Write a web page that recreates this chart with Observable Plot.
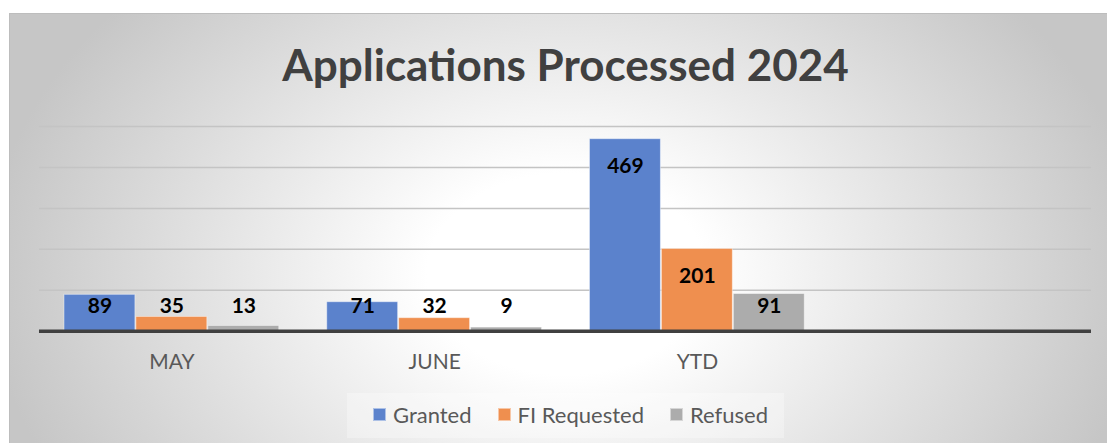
<!DOCTYPE html>
<html>
<head>
<meta charset="utf-8">
<script src="https://cdn.jsdelivr.net/npm/d3@7"></script>
<script src="https://cdn.jsdelivr.net/npm/@observablehq/plot@0.6"></script>
<style>
  html, body { margin: 0; padding: 0; background: #ffffff; width: 1107px; height: 443px; overflow: hidden; }
  #box {
    position: absolute; left: 9px; top: 13px; width: 1098px; height: 430px;
    border-top: 1px solid #bdbdbd; border-left: 1px solid #bdbdbd; box-sizing: border-box;
    background: radial-gradient(ellipse 580px 420px at 556px 260px, #ffffff 0%, #ffffff 24%, #c6c6c6 100%);
    font-family: Lato, "Open Sans", sans-serif;
  }
  #title {
    position: absolute; left: 0; top: 24px; width: 1111px; text-align: center;
    font-size: 44px; font-weight: 700; color: #404040; white-space: nowrap;
  }
  .layer { position: absolute; left: -9px; top: 87px; }
  .layer svg { display: block; }
  #legendbox {
    position: absolute; left: 337px; top: 379px; width: 437px; height: 45px;
    background: rgba(255,255,255,0.3);
  }
  #legend {
    position: absolute; left: 363px; top: 387px; display: flex; align-items: center;
    font-size: 22px; color: #595959; white-space: nowrap;
  }
  .item { display: flex; align-items: center; margin-right: 26px; }
  .sw { width: 13px; height: 13px; margin-right: 7px; box-sizing: border-box; border: 1px solid rgba(255,255,255,0.5); }
</style>
</head>
<body>
<div id="box">
  <div id="title">Applications Processed 2024</div>
  <div id="grid" class="layer"></div>
  <div id="chart" class="layer"></div>
  <div id="base" class="layer"></div>
  <div id="legendbox"></div>
  <div id="legend"></div>
</div>
<script>
const categories = ["MAY", "JUNE", "YTD", " "];
const series = ["Granted", "FI Requested", "Refused"];
const granted = [89, 71, 469, null];
const fiRequested = [35, 32, 201, null];
const refused = [13, 9, 91, null];
const colors = ["#5b82cc", "#ef8f4f", "#acacac"];
const gridTicks = [100, 200, 300, 400, 500];
const title = "Applications Processed 2024";

const seriesValues = [granted, fiRequested, refused];
const data = [];
categories.forEach((c, i) => {
  series.forEach((s, j) => {
    data.push({category: c, series: s, value: seriesValues[j][i]});
  });
});

const common = {
  width: 1107,
  height: 280,
  marginLeft: 38,
  marginRight: 16,
  marginTop: 25,
  marginBottom: 50,
  style: {background: "transparent", fontFamily: "Lato, 'Open Sans', sans-serif", overflow: "visible"},
  y: {domain: [0, 500], axis: null}
};

// gridlines (under the bars), not faceted so each is one continuous line
const gridPlot = Plot.plot({
  ...common,
  x: {axis: null},
  marks: [Plot.ruleY(gridTicks, {stroke: "#c4c4c4", strokeWidth: 1.5})]
});

// bars and labels, grouped by month
const plot = Plot.plot({
  ...common,
  fx: {domain: categories, paddingInner: 0, paddingOuter: 0, label: null, axis: "bottom", tickSize: 0, tickPadding: 23, fontSize: 21},
  x: {domain: series, axis: null, paddingInner: 0.015, paddingOuter: 0.326},
  color: {domain: series, range: colors},
  marks: [
    Plot.barY(data, {fx: "category", x: "series", y: "value", fill: "series", stroke: "#ffffff", strokeOpacity: 0.45, strokeWidth: 1}),
    Plot.text(data.filter(d => d.value != null), {
      fx: "category", x: "series",
      y: d => Math.max(d.value - 67, 61),
      text: d => String(d.value),
      fill: "#000000", fontWeight: 700, fontSize: 21
    })
  ]
});
plot.querySelectorAll('g[aria-label^="fx-axis"] text').forEach(t => {
  t.setAttribute("fill", "#595959");
  t.style.fontSize = "21px";
});

// category axis baseline (on top of the bars)
const basePlot = Plot.plot({
  ...common,
  x: {axis: null},
  marks: [Plot.ruleY([0], {stroke: "#404040", strokeWidth: 3.5})]
});

document.getElementById("grid").appendChild(gridPlot);
document.getElementById("chart").appendChild(plot);
document.getElementById("base").appendChild(basePlot);

const legend = document.getElementById("legend");
series.forEach((s, j) => {
  const item = document.createElement("div");
  item.className = "item";
  const sw = document.createElement("div");
  sw.className = "sw";
  sw.style.background = colors[j];
  const lab = document.createElement("span");
  lab.textContent = s;
  item.appendChild(sw);
  item.appendChild(lab);
  legend.appendChild(item);
});
</script>
</body>
</html>
